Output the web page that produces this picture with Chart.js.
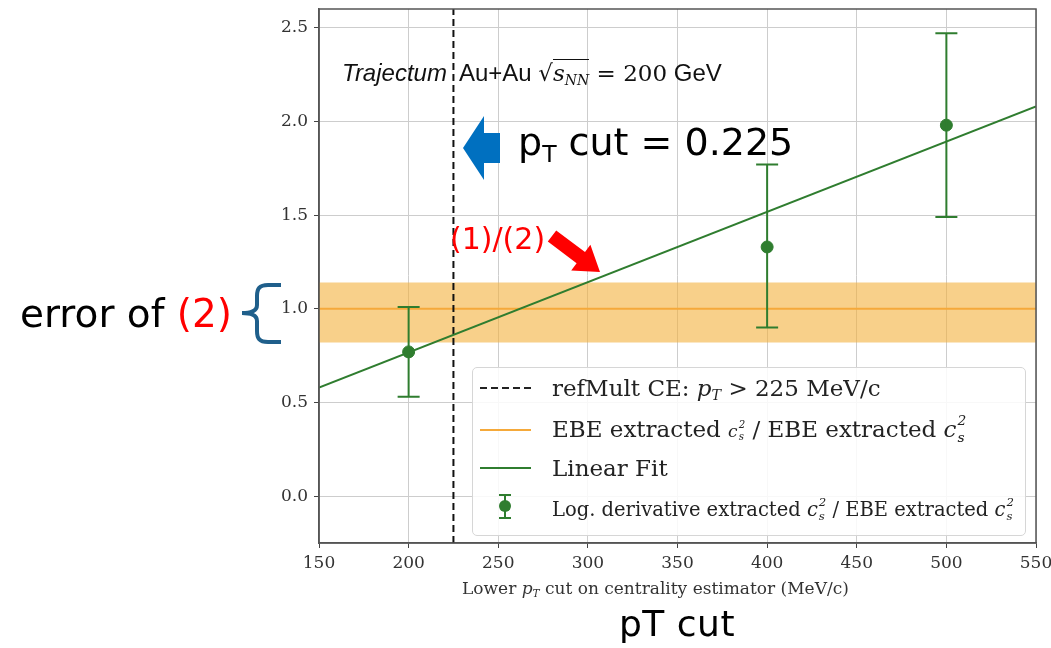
<!DOCTYPE html>
<html>
<head>
<meta charset="utf-8">
<script src="https://cdn.jsdelivr.net/npm/chart.js@4.4.1/dist/chart.umd.min.js"></script>
<style>
    body { margin: 0; background: #fff; }
    #wrap { position: relative; width: 1051px; height: 648px; overflow: hidden; }
    #c { position: absolute; left: 0; top: 0; }
    .txt { position: absolute; white-space: nowrap; line-height: 1; }
    .serif { font-family: "DejaVu Serif", "Liberation Serif", serif; color: #222; }
    .sans { font-family: "DejaVu Sans", "Liberation Sans", sans-serif; color: #000; }
    .helv { font-family: "Liberation Sans", Arial, sans-serif; color: #111; }
    .sub { font-size: 0.62em; vertical-align: -0.28em; line-height: 0; }
    .c2s { display: inline-block; vertical-align: -0.33em; line-height: 1.2; font-size: 0.6em; font-style: italic; margin-left: 1px; }
    .c2s span { display: block; }
    #legend {
        position: absolute; left: 472px; top: 367px; width: 552px; height: 167px;
        background: rgba(255,255,255,0.85); border: 1px solid #d6d6d6; border-radius: 5px;
    }
    svg { position: absolute; left: 0; top: 0; }
</style>
</head>
<body>
<div id="wrap">
    <canvas id="c" width="1051" height="648"></canvas>

    <div id="legend"></div>
    <svg width="1051" height="648">
        <line x1="480" y1="388" x2="531" y2="388" stroke="#222" stroke-width="2" stroke-dasharray="7,4"/>
        <line x1="480" y1="430" x2="531" y2="430" stroke="#f5a93a" stroke-width="2"/>
        <line x1="480" y1="468" x2="531" y2="468" stroke="#2f7d2f" stroke-width="2"/>
        <line x1="505" y1="495" x2="505" y2="518" stroke="#2f7d2f" stroke-width="2"/>
        <line x1="499" y1="495" x2="511" y2="495" stroke="#2f7d2f" stroke-width="2"/>
        <line x1="499" y1="518" x2="511" y2="518" stroke="#2f7d2f" stroke-width="2"/>
        <circle cx="505" cy="506" r="6" fill="#2f7d2f"/>

        <polygon points="463,148 484,116 484,133 500,133 500,163 484,163 484,180" fill="#0070c0"/>
        <polygon points="556.2,230.4 585,252 590.4,244.8 600,272 571.2,270.4 576.6,263.2 547.8,241.6" fill="#ff0000"/>
        <path d="M281,285 L268,285 C259,285 257,289 257,296 L257,305 C257,310 252,313 242,313 C252,313 257,316 257,321 L257,331 C257,338 259,342 268,342 L281,342"
              fill="none" stroke="#1f5f8b" stroke-width="4"/>
    </svg>

    <div class="txt serif" style="left:552px;top:377px;font-size:23px;">refMult CE: <i>p<span class="sub">T</span></i> &gt; 225 MeV/c</div>
    <div class="txt serif" style="left:552px;top:412px;font-size:23px;">EBE extracted <span style="font-size:17px;"><i>c</i><span class="c2s"><span>2</span><span>s</span></span></span> / EBE extracted <i>c</i><span class="c2s"><span>2</span><span>s</span></span></div>
    <div class="txt serif" style="left:552px;top:457px;font-size:23px;">Linear Fit</div>
    <div class="txt serif" style="left:552px;top:495px;font-size:19.5px;">Log. derivative extracted <i>c</i><span class="c2s"><span>2</span><span>s</span></span> / EBE extracted <i>c</i><span class="c2s"><span>2</span><span>s</span></span></div>

    <div class="txt helv" style="left:342px;top:61px;font-size:24px;">
        <i>Trajectum</i>&nbsp; Au+Au <span style="font-family:'DejaVu Serif',serif;font-size:23px;color:#111;">&radic;<span style="border-top:1px solid #111;"><i>s</i><span class="sub" style="font-size:14px;"><i>NN</i></span></span> = 200</span> GeV
    </div>

    <div class="txt serif" style="left:462px;top:580px;font-size:17px;color:#333;">Lower <i>p<span class="sub">T</span></i> cut on centrality estimator (MeV/c)</div>

    <div class="txt sans" style="left:518px;top:123px;font-size:38px;">p<span class="sub">T</span> cut = 0.225</div>
    <div class="txt sans" style="left:450px;top:224px;font-size:30px;color:#ff0000;">(1)/(2)</div>
    <div class="txt sans" style="left:20px;top:294px;font-size:39px;">error of <span style="color:#ff0000;">(2)</span></div>
    <div class="txt sans" style="left:619px;top:606px;font-size:36px;letter-spacing:0.5px;">pT cut</div>
</div>

<script>
// data
const xTicks = [150, 200, 250, 300, 350, 400, 450, 500, 550];
const yTicks = [0.0, 0.5, 1.0, 1.5, 2.0, 2.5];

const ptCuts = [200, 400, 500];
const ratioValues = [0.77, 1.33, 1.98];
const ratioLow = [0.53, 0.90, 1.49];
const ratioHigh = [1.01, 1.77, 2.47];

const fitX = [150, 550];
const fitY = [0.58, 2.08];

const bandCenter = 1.0;
const bandLow = 0.82;
const bandHigh = 1.14;

const refCut = 225;

const xMin = 150, xMax = 550;
const yMin = -0.25, yMax = 2.6;

const green = "#2f7d2f";
const orange = "#f5a93a";

function toPoints(xs, ys) {
    return xs.map(function (x, i) { return { x: x, y: ys[i] }; });
}

// error bars + box spines
const errorBars = {
    id: "errorBars",
    afterDatasetsDraw: function (chart) {
        const ctx = chart.ctx;
        const xs = chart.scales.x;
        const ys = chart.scales.y;
        ctx.save();
        ctx.strokeStyle = green;
        ctx.lineWidth = 2;
        ptCuts.forEach(function (p, i) {
            const px = xs.getPixelForValue(p);
            const lo = ys.getPixelForValue(ratioLow[i]);
            const hi = ys.getPixelForValue(ratioHigh[i]);
            ctx.beginPath();
            ctx.moveTo(px, lo); ctx.lineTo(px, hi);
            ctx.moveTo(px - 11, lo); ctx.lineTo(px + 11, lo);
            ctx.moveTo(px - 11, hi); ctx.lineTo(px + 11, hi);
            ctx.stroke();
        });
        ctx.restore();
    },
    afterDraw: function (chart) {
        const a = chart.chartArea;
        const ctx = chart.ctx;
        ctx.save();
        ctx.strokeStyle = "#555";
        ctx.lineWidth = 1.5;
        ctx.strokeRect(a.left, a.top, a.right - a.left, a.bottom - a.top);
        ctx.restore();
    }
};

new Chart(document.getElementById("c"), {
    type: "scatter",
    data: {
        datasets: [
            {
                label: "Log. derivative",
                data: toPoints(ptCuts, ratioValues),
                backgroundColor: green,
                borderColor: green,
                pointRadius: 6,
                showLine: false
            },
            {
                label: "Linear Fit",
                data: toPoints(fitX, fitY),
                borderColor: green,
                borderWidth: 2,
                pointRadius: 0,
                showLine: true
            },
            {
                label: "refMult CE",
                data: toPoints([refCut, refCut], [yMin, yMax]),
                borderColor: "#111",
                borderWidth: 2,
                borderDash: [7, 4],
                pointRadius: 0,
                showLine: true
            },
            {
                label: "EBE",
                data: toPoints([xMin, xMax], [bandCenter, bandCenter]),
                borderColor: orange,
                borderWidth: 2,
                pointRadius: 0,
                showLine: true
            },
            {
                label: "band high",
                data: toPoints([xMin, xMax], [bandHigh, bandHigh]),
                borderWidth: 0,
                borderColor: "rgba(0,0,0,0)",
                backgroundColor: "rgba(244,176,60,0.6)",
                pointRadius: 0,
                showLine: true,
                fill: "+1"
            },
            {
                label: "band low",
                data: toPoints([xMin, xMax], [bandLow, bandLow]),
                borderWidth: 0,
                borderColor: "rgba(0,0,0,0)",
                pointRadius: 0,
                showLine: true
            }
        ]
    },
    options: {
        responsive: false,
        animation: false,
        layout: {
            padding: { left: 0, right: 15, top: 9, bottom: 0 }
        },
        plugins: {
            legend: { display: false },
            tooltip: { enabled: false }
        },
        scales: {
            x: {
                type: "linear",
                min: xMin,
                max: xMax,
                afterBuildTicks: function (scale) {
                    scale.ticks = xTicks.map(function (v) { return { value: v }; });
                },
                afterFit: function (scale) {
                    scale.height = 105;
                    scale.paddingLeft = 0;
                    scale.paddingRight = 0;
                },
                ticks: {
                    color: "#333",
                    font: { family: "DejaVu Serif", size: 17 },
                    padding: 5,
                    maxRotation: 0
                },
                grid: {
                    color: "#cdcdcd",
                    tickColor: "#444",
                    tickLength: 5
                },
                border: { color: "#555", width: 1.5 }
            },
            y: {
                type: "linear",
                min: yMin,
                max: yMax,
                afterBuildTicks: function (scale) {
                    scale.ticks = yTicks.map(function (v) { return { value: v }; });
                },
                afterFit: function (scale) {
                    scale.width = 319;
                    scale.paddingTop = 0;
                    scale.paddingBottom = 0;
                },
                ticks: {
                    color: "#333",
                    font: { family: "DejaVu Serif", size: 17 },
                    padding: 6,
                    callback: function (value) {
                        return value.toFixed(1);
                    }
                },
                grid: {
                    color: "#cdcdcd",
                    tickColor: "#444",
                    tickLength: 5
                },
                border: { color: "#555", width: 1.5 }
            }
        }
    },
    plugins: [errorBars]
});
</script>
</body>
</html>
